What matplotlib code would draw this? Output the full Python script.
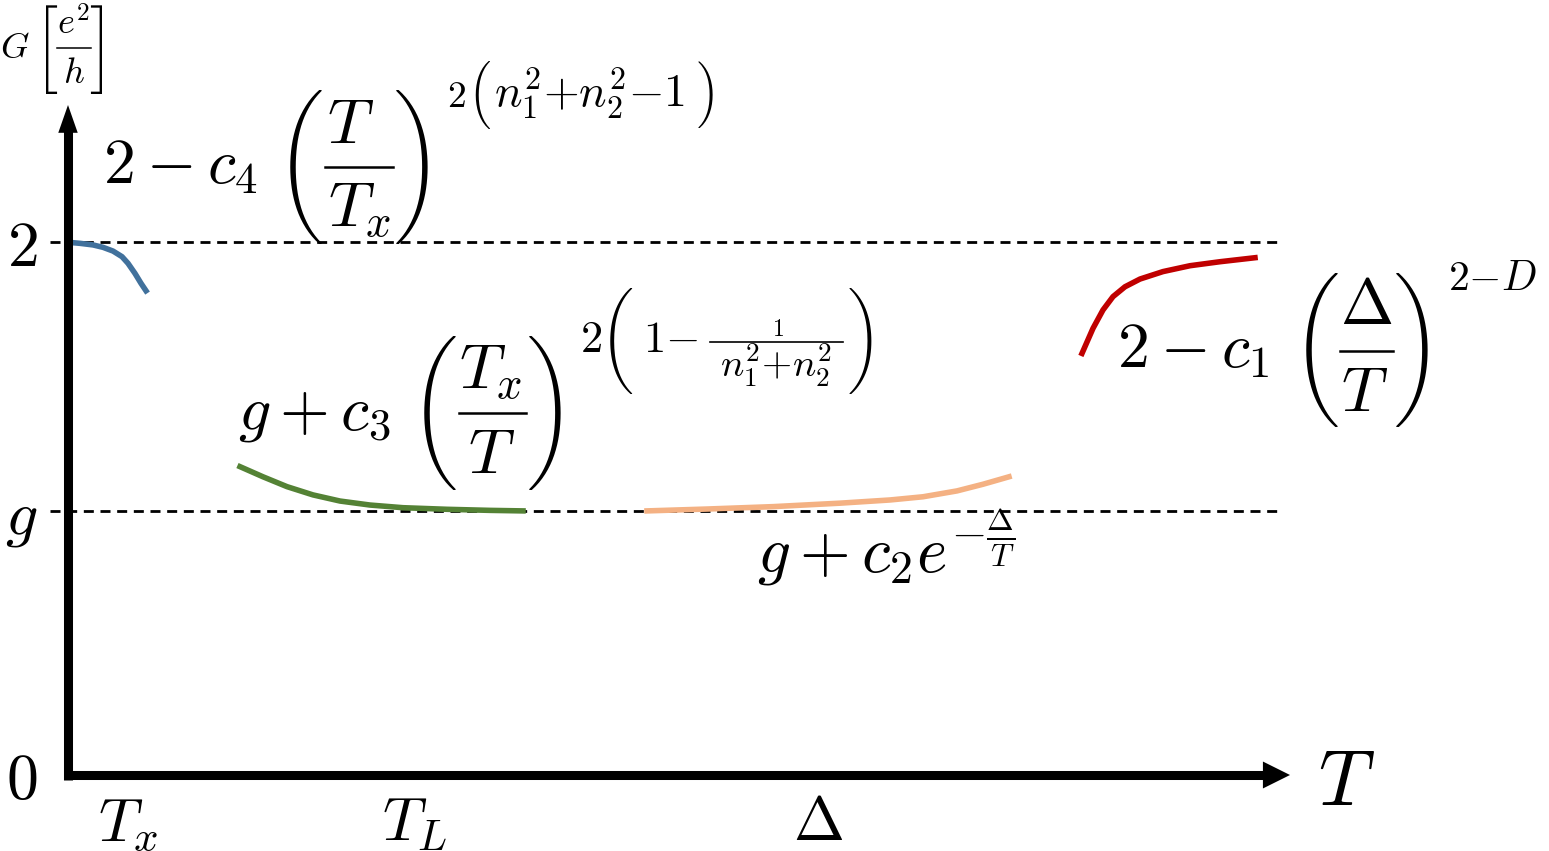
import os
import numpy as np
import matplotlib
matplotlib.use("Agg")
import matplotlib.pyplot as plt
from matplotlib.font_manager import FontProperties
from matplotlib.lines import Line2D

plt.rcParams['mathtext.fontset'] = 'cm'

# sketch of conductance G vs temperature T (arbitrary units, T measured from the origin)
g = 0.99
G_top = 2.0

blue_T = [0, 12, 25, 35, 45, 54, 60, 67, 73, 78]
blue_G = [1.999, 1.995, 1.989, 1.980, 1.966, 1.945, 1.920, 1.882, 1.845, 1.817]

green_T = [172, 195, 219, 245, 272, 302, 335, 379, 422, 455]
green_G = [1.157, 1.119, 1.082, 1.051, 1.028, 1.013, 1.003, 0.997, 0.993, 0.991]

orange_T = [579, 639, 705, 772, 822, 855, 889, 915, 941]
orange_G = [0.991, 0.998, 1.007, 1.020, 1.032, 1.044, 1.066, 1.091, 1.119]

red_T = [1014, 1025, 1035, 1045, 1057, 1072, 1095, 1122, 1152, 1187]
red_G = [1.582, 1.676, 1.745, 1.795, 1.832, 1.861, 1.889, 1.911, 1.926, 1.941]

xtick_pos = [60, 347, 750]
xtick_lab = [r'$T_x$', r'$T_L$', r'$\Delta$']
ytick_pos = [0, g, G_top]
ytick_lab = [r'$0$', r'$g$', r'$2$']

W, H = 1549, 851
fig = plt.figure(figsize=(W / 100, H / 100), dpi=100)
ax = fig.add_axes([68 / W, 76 / H, (W - 68) / W, 775 / H])
ax.set_xlim(0, W - 68)
ax.set_ylim(0, 775 / 266.5)
for s in ax.spines.values():
    s.set_visible(False)

# reference levels
for lev in [G_top, g]:
    ax.plot([-18, 1215], [lev, lev], color='k', lw=2, dashes=(3.6, 2.4),
            clip_on=False, zorder=1)

ax.plot(blue_T, blue_G, color='#41719c', lw=4, zorder=2)
ax.plot(green_T, green_G, color='#548235', lw=4, zorder=2)
ax.plot(orange_T, orange_G, color='#f4b183', lw=4, zorder=2)
ax.plot(red_T, red_G, color='#c00000', lw=4, zorder=2)

# axes with arrows
ax.plot([0, 0], [-0.017, 2.42], color='k', lw=6.5, solid_capstyle='butt',
        clip_on=False, zorder=3)
ax.plot([-4, 1200], [0, 0], color='k', lw=6.5, solid_capstyle='butt',
        clip_on=False, zorder=3)
ax.annotate('', xy=(0, 2.514), xytext=(0, 2.3),
            arrowprops=dict(arrowstyle='-|>,head_length=2.0,head_width=0.7',
                            mutation_scale=10, lw=0, fc='k', shrinkA=0, shrinkB=0),
            annotation_clip=False, zorder=4)
ax.annotate('', xy=(1222, 0), xytext=(1150, 0),
            arrowprops=dict(arrowstyle='-|>,head_length=1.95,head_width=0.97',
                            mutation_scale=10, lw=0, fc='k', shrinkA=0, shrinkB=0),
            annotation_clip=False, zorder=4)

ax.set_xticks(xtick_pos, xtick_lab, fontsize=44)
ax.set_yticks(ytick_pos, ytick_lab, fontsize=46)
ax.tick_params(axis='x', length=0, pad=14)
ax.tick_params(axis='y', length=0, pad=22)

# ---- formulas, placed in pixel coordinates (from top-left) ----
cmex = FontProperties(fname=os.path.join(matplotlib.get_data_path(),
                                         'fonts', 'ttf', 'cmex10.ttf'))
BIGG_L, BIGG_R = '\xb5', '\xb6'   # \biggl( \biggr)
BIG_L, BIG_R = '\xb3', '\xb4'     # \Bigl( \Bigr)
BRK_L, BRK_R = 'h', 'i'           # \Bigl[ \Bigr]

def tx(x, y, s, size, ha='left', va='baseline'):
    fig.text(x / W, 1 - y / H, s, fontsize=size, ha=ha, va=va)

def delim(x, y, ch, size):
    fig.text(x / W, 1 - y / H, ch, fontproperties=cmex, size=size,
             ha='center', va='center')

def bar(x0, x1, y, lw=1.8):
    fig.add_artist(Line2D([x0 / W, x1 / W], [1 - y / H, 1 - y / H], lw=lw, color='k'))

# y-axis label  G [e^2/h]
tx(0, 58, r'$G$', 26)
delim(47, 50, BRK_L, 35)
tx(73, 35, r'$e^2$', 26, ha='center')
bar(57, 91, 48, lw=1.1)
tx(74, 83, r'$h$', 26, ha='center')
delim(101, 50, BRK_R, 35)

# 2 - c4 (T/Tx)^{2(n1^2+n2^2-1)}
tx(103, 183, r'$2-c_4$', 46)
delim(300, 167, BIGG_L, 46)
tx(351, 143, r'$T$', 46, ha='center')
bar(325, 393, 167)
tx(359, 227, r'$T_x$', 46, ha='center')
delim(417, 167, BIGG_R, 46)
tx(447, 107, r'$2$', 27)
delim(479, 95, BIG_L, 27)
tx(494, 107, r'$n_1^2{+}n_2^2{-}1$', 33)
delim(708, 95, BIG_R, 27)

# g + c3 (Tx/T)^{2(1 - 1/(n1^2+n2^2))}
tx(238, 429, r'$g+c_3$', 46)
delim(434, 413, BIGG_L, 46)
tx(490, 389, r'$T_x$', 46, ha='center')
bar(459, 526, 413)
tx(492, 473, r'$T$', 46, ha='center')
delim(550, 413, BIGG_R, 46)
tx(580, 352, r'$2$', 32)
delim(617, 341, BIGG_L, 32)
tx(643, 352, r'$1{-}$', 32)
tx(778, 336, r'$1$', 17, ha='center')
bar(710, 843, 342, lw=1.2)
tx(776, 377, r'$n_1^2{+}n_2^2$', 28, ha='center')
delim(864, 341, BIGG_R, 32)

# g + c2 exp(-Delta/T)
tx(757, 572, r'$g+c_2e^{-\frac{\Delta}{T}}$', 47)

# 2 - c1 (Delta/T)^{2-D}
tx(1117, 367, r'$2-c_1$', 46)
delim(1316, 350, BIGG_L, 46)
tx(1366, 324, r'$\Delta$', 46, ha='center')
bar(1340, 1393, 351)
tx(1365, 411, r'$T$', 46, ha='center')
delim(1417, 350, BIGG_R, 46)
tx(1448, 290, r'$2{-}D$', 30)

tx(1318, 805, r'$T$', 56)

fig.savefig('out.png', dpi=100)
